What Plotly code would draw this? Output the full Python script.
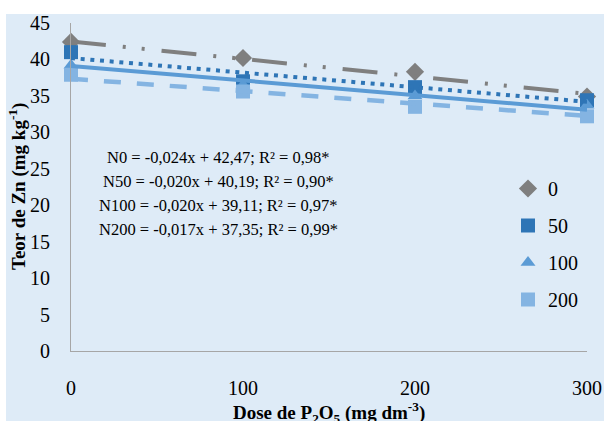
import plotly.graph_objects as go

# ---- data ----
doses = [0, 100, 200, 300]
series_names = ["0", "50", "100", "200"]
zn_n0 = [42.4, 40.2, 38.3, 34.9]
zn_n50 = [41.0, 37.0, 36.2, 34.4]
zn_n100 = [39.2, 36.5, 35.0, 33.7]
zn_n200 = [37.9, 35.6, 33.5, 32.2]

trend_x = [0, 300]
trend_n0 = [42.47, 35.27]
trend_n50 = [40.19, 34.19]
trend_n100 = [39.11, 33.11]
trend_n200 = [37.35, 32.25]

equations = [
    "N0 = -0,024x + 42,47; R² = 0,98*",
    "N50 = -0,020x + 40,19; R² = 0,90*",
    "N100 = -0,020x + 39,11; R² = 0,97*",
    "N200 = -0,017x + 37,35; R² = 0,99*",
]
x_ticks = [0, 100, 200, 300]
y_ticks = [0, 5, 10, 15, 20, 25, 30, 35, 40, 45]

# ---- styles ----
FONT = "Liberation Serif"
BG = "#DEEBF7"
colors = ["#7F7F7F", "#2E75B6", "#5B9BD5", "#84B4E2"]
symbols = ["diamond", "square", "triangle-up", "square"]
sizes = [14, 14, 13, 14]
values = [zn_n0, zn_n50, zn_n100, zn_n200]
trends = [trend_n0, trend_n50, trend_n100, trend_n200]
dashes = ["35px,17px,3px,16px,3px,17px", "4px,5.7px", "solid", "17px,16px"]
widths = [4, 4, 4, 4.5]

fig = go.Figure()

for i, name in enumerate(series_names):
    fig.add_trace(go.Scatter(
        x=doses, y=values[i], mode="markers", name=name,
        legendgroup=name,
        marker=dict(symbol=symbols[i], size=sizes[i], color=colors[i]),
        cliponaxis=False,
    ))

for i, name in enumerate(series_names):
    fig.add_trace(go.Scatter(
        x=trend_x, y=trends[i], mode="lines", showlegend=False,
        line=dict(color=colors[i], width=widths[i], dash=dashes[i]),
        cliponaxis=False, hoverinfo="skip",
    ))

# plot area geometry (pixels)
L, R, T, B = 71, 587, 23, 351
W, H = 604, 421
pw, ph = R - L, B - T

def px_x(p):
    return (p - L) / pw

def px_y(p):
    return (B - p) / ph

annotations = []
eq_y = [157, 181, 205, 229]
for txt, yy in zip(equations, eq_y):
    annotations.append(dict(
        text=txt, xref="paper", yref="paper", x=px_x(218), y=px_y(yy),
        xanchor="center", yanchor="middle", showarrow=False,
        font=dict(family=FONT, size=16.5, color="#000000"),
    ))

annotations.append(dict(
    text="<b>Dose de P<sub>2</sub>O<sub>5</sub> (mg dm<sup>-3</sup>)</b>",
    xref="paper", yref="paper", x=px_x(329), y=px_y(412),
    xanchor="center", yanchor="middle", showarrow=False,
    font=dict(family=FONT, size=19, color="#000000"),
))
annotations.append(dict(
    text="<b>Teor de Zn (mg kg<sup>-1</sup>)</b>",
    xref="paper", yref="paper", x=px_x(17), y=px_y(187),
    xanchor="center", yanchor="middle", showarrow=False, textangle=-90,
    font=dict(family=FONT, size=19, color="#000000"),
))

shapes = [
    dict(type="rect", xref="paper", yref="paper", x0=px_x(6), x1=px_x(W + 20),
         y0=px_y(H + 20), y1=px_y(14), fillcolor=BG, line=dict(width=0),
         layer="below"),
]

fig.update_layout(
    width=W, height=H,
    margin=dict(l=L, r=W - R, t=T, b=H - B, pad=0),
    paper_bgcolor="white", plot_bgcolor=BG,
    font=dict(family=FONT, size=20, color="#000000"),
    showlegend=True,
    legend=dict(
        x=px_x(508), y=px_y(169), xanchor="left", yanchor="top",
        bgcolor="rgba(0,0,0,0)", font=dict(family=FONT, size=20),
        tracegroupgap=8, traceorder="grouped",
    ),
    annotations=annotations,
    shapes=shapes,
)
fig.update_xaxes(
    range=[0, 300], tickvals=x_ticks, showgrid=False, zeroline=False,
    showline=True, linecolor="#A6A6A6", linewidth=1,
    ticks="outside", ticklen=19, tickcolor="rgba(0,0,0,0)",
    tickfont=dict(family=FONT, size=20), automargin=False,
)
fig.update_yaxes(
    range=[0, 45], tickvals=y_ticks, showgrid=False, zeroline=False,
    showline=True, linecolor="#A6A6A6", linewidth=1,
    ticks="outside", ticklen=16, tickcolor="rgba(0,0,0,0)",
    tickfont=dict(family=FONT, size=20), automargin=False,
)

fig.write_html(
    "out.html",
    config={"displayModeBar": False},
    post_script="document.body.style.margin='0';document.body.style.padding='0';",
)
